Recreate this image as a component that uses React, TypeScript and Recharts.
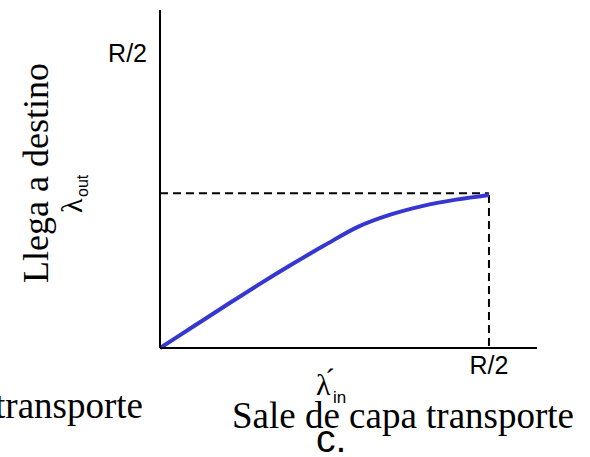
import React from "react";
import { LineChart, Line, XAxis, YAxis, ReferenceLine, Customized } from "recharts";

// offered load (fraction of R/2) vs delivered throughput (fraction of R/2)
const lambdaIn = [0, 0.1, 0.2, 0.3, 0.4, 0.5, 0.6, 0.7, 0.8, 0.9, 1.0];
const lambdaOut = [0, 0.072, 0.144, 0.215, 0.283, 0.348, 0.41, 0.452, 0.482, 0.503, 0.519];
const capLevel = 0.525;
const axisTicks = [1];
const tickName = "R/2";

const chartData = lambdaIn.map((x, i) => ({ x, y: lambdaOut[i] }));

const serif = "'Liberation Serif', 'Times New Roman', serif";
const sans = "'Liberation Sans', Arial, sans-serif";

const Labels = () => (
    <g>
        {/* y axis title, rotated */}
        <text x={48} y={173} transform="rotate(-90, 48, 173)" textAnchor="middle" fontFamily={serif} fontSize={36} fill="#000">
            Llega a destino
        </text>
        <g transform="rotate(-90, 82, 213)">
            <text x={82} y={213} fontFamily={serif} fontSize={30} fill="#000">λ</text>
            <text x={98} y={219} fontFamily={sans} fontSize={16} fill="#000">out</text>
        </g>

        {/* leftover title from neighbouring panel */}
        <text x={143} y={418} textAnchor="end" fontFamily={serif} fontSize={37} fill="#000">transporte</text>

        {/* x axis title */}
        <text x={316} y={395} fontFamily={serif} fontSize={30} fill="#000">λ</text>
        <text x={325} y={389} fontFamily={serif} fontSize={30} fill="#000">´</text>
        <text x={333} y={403} fontFamily={sans} fontSize={17} fill="#000">in</text>
        <text x={403} y={428} textAnchor="middle" fontFamily={serif} fontSize={37} fill="#000">
            Sale de capa transporte
        </text>
        <text x={316} y={452} fontFamily={sans} fontSize={39} fill="#000">c.</text>
    </g>
);

const App: React.FC = () => {
    return (
        <div style={{ position: "absolute", left: 0, top: 0, width: 590, height: 457, background: "#fff" }}>
            <LineChart width={590} height={457} data={chartData} margin={{ top: 10, right: 53, bottom: 69, left: 100 }}>
                <XAxis
                    dataKey="x"
                    type="number"
                    domain={[0, 1.146]}
                    ticks={axisTicks}
                    tickFormatter={() => tickName}
                    height={40}
                    tickLine={false}
                    tickSize={0}
                    tickMargin={8}
                    axisLine={{ stroke: "#000", strokeWidth: 2 }}
                    tick={{ fill: "#000", fontSize: 25, fontFamily: sans }}
                />
                <YAxis
                    type="number"
                    domain={[0, 1.146]}
                    ticks={axisTicks}
                    tickFormatter={() => tickName}
                    width={60}
                    tickLine={false}
                    tickSize={0}
                    tickMargin={13}
                    axisLine={{ stroke: "#000", strokeWidth: 2 }}
                    tick={{ fill: "#000", fontSize: 25, fontFamily: sans }}
                />
                <ReferenceLine
                    segment={[{ x: 0, y: capLevel }, { x: 1, y: capLevel }]}
                    stroke="#000"
                    strokeWidth={2}
                    strokeDasharray="8 5"
                    ifOverflow="visible"
                />
                <ReferenceLine
                    segment={[{ x: 1, y: lambdaOut[lambdaOut.length - 1] }, { x: 1, y: 0 }]}
                    stroke="#000"
                    strokeWidth={2}
                    strokeDasharray="8 5"
                    ifOverflow="visible"
                />
                <Line
                    type="monotone"
                    dataKey="y"
                    stroke="#3636d1"
                    strokeWidth={4}
                    dot={false}
                    isAnimationActive={false}
                />
                <Customized component={Labels} />
            </LineChart>
        </div>
    );
};

export default App;
